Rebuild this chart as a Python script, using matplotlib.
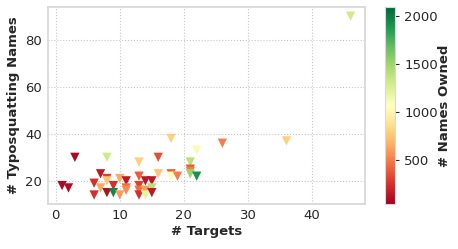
import numpy as np
import matplotlib
matplotlib.use("Agg")
import matplotlib.pyplot as plt
import seaborn as sns

# -------------------------
# Data
# -------------------------
targets = [1, 2, 3, 6, 6, 7, 7, 8, 8, 8, 8, 9, 9, 10, 10, 11, 11, 11,
           13, 13, 13, 13, 13, 14, 14, 14, 15, 15, 15, 16, 16,
           18, 18, 18, 19, 21, 21, 21, 21, 22, 22, 26, 36, 46]
typo_names = [18, 17, 30, 19, 14, 23, 17, 30, 21, 20, 15, 18, 15, 21, 14, 20, 17, 16,
              28, 22, 18, 16, 14, 20, 16, 14, 20, 17, 15, 30, 23,
              38, 23, 22, 22, 28, 25, 24, 23, 33, 22, 36, 37, 90]
names_owned = [80, 100, 80, 250, 250, 150, 650, 1300, 300, 750, 100, 250, 1950, 650, 600, 150, 450, 550,
               800, 400, 300, 450, 250, 150, 600, 1200, 150, 1400, 150, 350, 750,
               800, 400, 1050, 500, 1400, 400, 500, 1500, 1100, 1900, 500, 800, 1300]

sns.set_style("whitegrid", {"grid.linestyle": ":", "axes.edgecolor": "#d9d9d9"})
plt.rcParams['font.family'] = ['DejaVu Sans']

fig = plt.figure(figsize=(4.58, 2.49), dpi=100)
ax = fig.add_axes([0.104, 0.181, 0.693, 0.79])
cax = fig.add_axes([0.841, 0.181, 0.022, 0.79])

sc = ax.scatter(targets, typo_names, c=names_owned, cmap="RdYlGn",
                vmin=43, vmax=2090, marker="v", s=45, linewidths=0)

ax.set_xticks([0, 10, 20, 30, 40])
ax.set_yticks([20, 40, 60, 80])
ax.tick_params(labelsize=9.5, colors="#262626", length=0, pad=4)
ax.grid(True, linestyle=":", color="#c8c8c8", linewidth=0.8)
for sp in ax.spines.values():
    sp.set_color("#d9d9d9")
    sp.set_linewidth(1.3)

ax.set_xlabel("# Targets", fontsize=9.5, fontweight="bold", color="#262626", labelpad=2)
ax.set_ylabel("# Typosquatting Names", fontsize=9.5, fontweight="bold", color="#262626", labelpad=4)

cb = fig.colorbar(sc, cax=cax)
cb.set_ticks([500, 1000, 1500, 2000])
cb.ax.tick_params(labelsize=9.5, colors="#262626", length=3, width=0.8)
cb.outline.set_edgecolor("#d9d9d9")
cb.set_label("# Names Owned", fontsize=9.5, fontweight="bold", color="#262626", labelpad=0)

fig.savefig("out.png", dpi=100)
